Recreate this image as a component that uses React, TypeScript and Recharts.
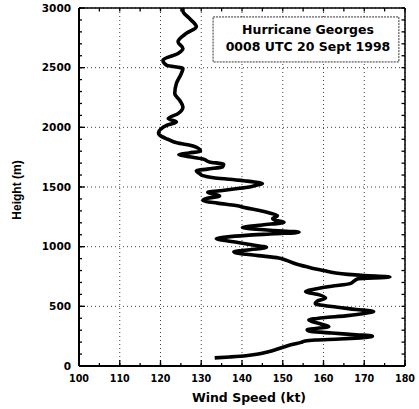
import React from 'react';
import {
  LineChart,
  Line,
  XAxis,
  YAxis,
  CartesianGrid,
  ReferenceArea,
} from 'recharts';

// Height (m) of each sample, bottom to top
const heights: number[] = [
  68, 76, 86, 100, 120, 140, 162, 182, 198, 210, 218, 226, 236, 250, 262, 276, 290, 302, 316, 330,
  350, 386, 405, 420, 440, 456, 474, 498, 522, 545, 570, 596, 624, 645, 668, 690, 712, 732, 746, 758,
  768, 779, 800, 822, 852, 890, 905, 925, 945, 958, 968, 982, 995, 1012, 1035, 1055, 1066, 1080, 1095, 1108,
  1120, 1138, 1160, 1182, 1205, 1222, 1235, 1260, 1280, 1305, 1325, 1345, 1365, 1388, 1405, 1425, 1440, 1456, 1468, 1485,
  1500, 1515, 1530, 1542, 1552, 1563, 1578, 1595, 1615, 1635, 1650, 1668, 1690, 1710, 1735, 1758, 1772, 1785, 1801, 1843,
  1870, 1900, 1935, 1955, 1989, 2017, 2045, 2073, 2115, 2171, 2227, 2283, 2367, 2451, 2493, 2521, 2563, 2619, 2661, 2717,
  2787, 2843, 2913, 2975, 3000,
];

// Wind speed (kt) at each height above
const speeds: number[] = [
  133.3, 137, 141, 144, 146.5, 148.5, 150.5, 152.5, 154.5, 155.5, 158, 164, 169, 172, 168, 162, 157, 156, 158.5, 161.3,
  159.5, 156.4, 160, 165.4, 170, 172.3, 168, 162, 158, 158.5, 160.5, 159, 155.6, 158, 162, 166.5, 167.5, 168.5, 176.3, 170,
  166, 163, 160, 157, 153.5, 150.5, 149, 144, 139, 138, 140, 144, 146, 143, 139, 135, 133.7, 136, 141, 148,
  154, 147, 140.1, 145, 150.3, 148, 147.5, 148.7, 147, 144, 141, 138.5, 134, 130.4, 131.5, 134.5, 133, 131.6, 134.5, 138.5,
  141.8, 143.5, 145, 143, 140.5, 137.7, 133, 130.4, 129.5, 128.8, 131.5, 135.2, 135.5, 132, 130.4, 126.3, 124.5, 127, 129.8, 128,
  124, 121.8, 119.8, 119.5, 120.2, 121.5, 123.9, 121.9, 124.3, 125.5, 124.7, 123.5, 123.9, 125.1, 125.5, 121.5, 120.6, 124.3, 125.5, 124.3,
  126.3, 128.8, 127.1, 125.5, 125.5,
];

const speedTicks: number[] = [100, 110, 120, 130, 140, 150, 160, 170, 180];
const speedMinorTicks: number[] = [
  100, 105, 110, 115, 120, 125, 130, 135, 140, 145, 150, 155, 160, 165, 170, 175, 180,
];
const heightTicks: number[] = [0, 500, 1000, 1500, 2000, 2500, 3000];
const heightMinorTicks: number[] = Array.from({ length: 31 }, (_, i) => i * 100);

const titleLines: string[] = ['Hurricane Georges', '0008 UTC 20 Sept 1998'];

const data = heights.map((h, i) => ({ h, s: speeds[i] }));

const FONT = '"DejaVu Sans", sans-serif';
const noTick = () => <g />;

const BoxLabel = (props: any) => {
  const vb = props.viewBox || {};
  const cx = vb.x + vb.width / 2 + 2;
  return (
    <g>
      <text x={cx} y={vb.y + 17.5} textAnchor="middle" fontFamily={FONT} fontWeight="bold" fontSize={12.5} fill="#000">
        {titleLines[0]}
      </text>
      <text x={cx} y={vb.y + 34} textAnchor="middle" fontFamily={FONT} fontWeight="bold" fontSize={12.5} fill="#000">
        {titleLines[1]}
      </text>
    </g>
  );
};

const XTitle = (props: any) => {
  const vb = props.viewBox || {};
  return (
    <text x={vb.x + vb.width / 2 + 7} y={vb.y + 36} textAnchor="middle" fontFamily={FONT} fontWeight="bold" fontSize={12.5} fill="#000">
      Wind Speed (kt)
    </text>
  );
};

const YTitle = (props: any) => {
  const vb = props.viewBox || {};
  const x = vb.x + 21;
  const y = vb.y + vb.height / 2 + 3;
  return (
    <text
      x={x}
      y={y}
      transform={`rotate(-90, ${x}, ${y})`}
      textAnchor="middle"
      fontFamily='"Liberation Sans", Arial, sans-serif'
      fontWeight="bold"
      fontSize={12}
      fill="#000"
    >
      Height (m)
    </text>
  );
};

const tickLineStyle = { stroke: '#000', strokeWidth: 1.3 };

export default function App() {
  return (
    <div style={{ position: 'absolute', left: 0, top: 0, width: 419, height: 409, background: '#fff' }}>
      <LineChart width={419} height={409} data={data} layout="vertical" margin={{ top: 8, right: 14, bottom: 0, left: 0 }}>
        <CartesianGrid stroke="#444" strokeDasharray="1 3" strokeWidth={1} />
        <XAxis
          type="number"
          dataKey="s"
          domain={[100, 180]}
          ticks={speedTicks}
          interval={0}
          allowDataOverflow
          height={43}
          tickLine={tickLineStyle}
          tickSize={-6}
          tickMargin={15}
          axisLine={{ stroke: '#000', strokeWidth: 2 }}
          tick={{ fill: '#000', fontSize: 9.6, fontFamily: FONT, fontWeight: 'bold' }}
          label={{ content: XTitle }}
        />
        <YAxis
          type="number"
          dataKey="h"
          domain={[0, 3000]}
          ticks={heightTicks}
          interval={0}
          allowDataOverflow
          reversed
          width={79}
          tickLine={tickLineStyle}
          tickSize={-6}
          tickMargin={14}
          axisLine={{ stroke: '#000', strokeWidth: 2 }}
          tick={{ fill: '#000', fontSize: 10.5, fontFamily: FONT, fontWeight: 'bold' }}
          label={{ content: YTitle }}
        />
        {/* inward minor ticks on all four sides of the frame */}
        <XAxis xAxisId="bMin" type="number" orientation="bottom" mirror domain={[100, 180]} allowDataOverflow ticks={speedMinorTicks} interval={0} tickSize={3} tick={noTick} axisLine={false} tickLine={tickLineStyle} />
        <XAxis xAxisId="tMin" type="number" orientation="top" mirror domain={[100, 180]} allowDataOverflow ticks={speedMinorTicks} interval={0} tickSize={3.5} tick={noTick} axisLine={{ stroke: '#000', strokeWidth: 1.5 }} tickLine={tickLineStyle} />
        <YAxis yAxisId="lMin" type="number" dataKey="h" orientation="left" mirror reversed domain={[0, 3000]} allowDataOverflow ticks={heightMinorTicks} interval={0} tickSize={3} tick={noTick} axisLine={false} tickLine={tickLineStyle} />
        <YAxis yAxisId="rMin" type="number" dataKey="h" orientation="right" mirror reversed domain={[0, 3000]} allowDataOverflow ticks={heightMinorTicks} interval={0} tickSize={3.5} tick={noTick} axisLine={{ stroke: '#000', strokeWidth: 1.5 }} tickLine={tickLineStyle} />
        <ReferenceArea
          x1={132.9}
          x2={178.5}
          y1={2548}
          y2={2925}
          fill="#fff"
          fillOpacity={1}
          stroke="#333"
          strokeWidth={1}
          strokeDasharray="2 1"
          label={{ content: BoxLabel }}
        />
        <Line type="monotone" dataKey="s" stroke="#000" strokeWidth={3.6} dot={false} isAnimationActive={false} />
      </LineChart>
    </div>
  );
}
